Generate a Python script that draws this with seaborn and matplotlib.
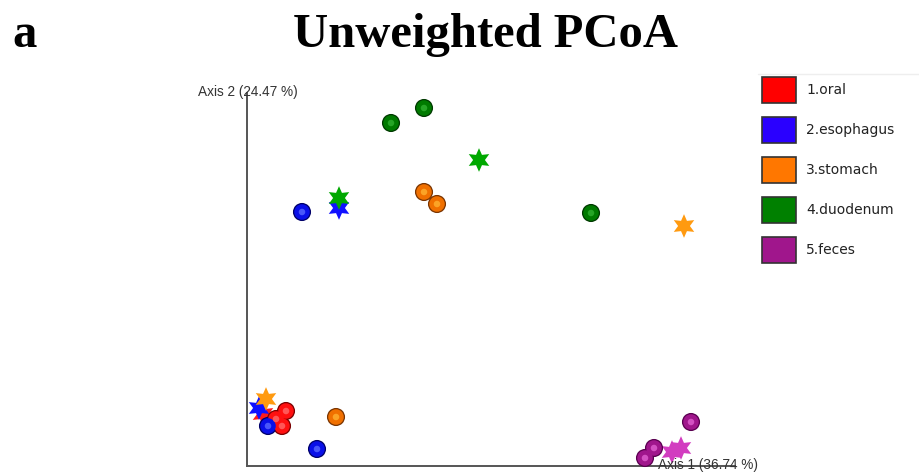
import numpy as np
import pandas as pd
import matplotlib
matplotlib.use("Agg")
import matplotlib.pyplot as plt
import seaborn as sns
from matplotlib.patches import Patch
from matplotlib.lines import Line2D

# ---- data (PCoA coordinates) ----
groups = ["1.oral", "2.esophagus", "3.stomach", "4.duodenum", "5.feces"]

oral_pc1 = [-0.197, -0.174, -0.184, -0.178]
oral_pc2 = [-0.114, -0.111, -0.119, -0.126]
oral_kind = ["star", "circle", "circle", "circle"]

eso_pc1 = [-0.201, -0.121, -0.192, -0.143, -0.158]
eso_pc2 = [-0.108, 0.092, -0.126, -0.149, 0.088]
eso_kind = ["star", "star", "circle", "circle", "circle"]

sto_pc1 = [-0.194, 0.224, -0.124, -0.036, -0.023]
sto_pc2 = [-0.099, 0.074, -0.117, 0.108, 0.096]
sto_kind = ["star", "star", "circle", "circle", "circle"]

duo_pc1 = [-0.121, 0.019, -0.069, -0.036, 0.131]
duo_pc2 = [0.102, 0.140, 0.177, 0.192, 0.087]
duo_kind = ["star", "star", "circle", "circle", "circle"]

fec_pc1 = [0.212, 0.221, 0.231, 0.194, 0.185]
fec_pc2 = [-0.152, -0.148, -0.122, -0.148, -0.158]
fec_kind = ["star", "star", "circle", "circle", "circle"]

axis1_label = "Axis 1 (36.74 %)"
axis2_label = "Axis 2 (24.47 %)"

# ---- styles ----
legend_colors = ["#ff0000", "#2a00ff", "#ff7700", "#008000", "#a0168c"]
circle_base = ["#ff1010", "#0a10e8", "#f07000", "#007a00", "#a0168c"]
circle_edge = ["#7a0000", "#00006a", "#7a3400", "#003a00", "#5a0050"]
circle_light = ["#ff6a6a", "#5a6aff", "#ffb030", "#30b030", "#e060d0"]
star_colors = ["#ff1a1a", "#1010ff", "#ff9a10", "#00a800", "#d23cc0"]

frames = []
for g, x, y, k in zip(groups,
                      [oral_pc1, eso_pc1, sto_pc1, duo_pc1, fec_pc1],
                      [oral_pc2, eso_pc2, sto_pc2, duo_pc2, fec_pc2],
                      [oral_kind, eso_kind, sto_kind, duo_kind, fec_kind]):
    frames.append(pd.DataFrame({"group": g, "PC1": x, "PC2": y, "kind": k}))
df = pd.concat(frames, ignore_index=True)

sns.set_theme(style="white")
plt.rcParams["font.family"] = ["DejaVu Sans"]

W, H = 920, 472
fig = plt.figure(figsize=(W / 100, H / 100), dpi=100)

# axes placed in pixel geometry
x0, x1 = 247, 735
y0, y1 = 466, 80
ax = fig.add_axes([x0 / W, 1 - y0 / H, (x1 - x0) / W, (y0 - y1) / H])
ax.set_xlim(-0.213, 0.275)
ax.set_ylim(-0.166, 0.220)

stars = df[df.kind == "star"]
circles = df[df.kind == "circle"]
star_marker = (6, 1, 0)

sns.scatterplot(data=stars, x="PC1", y="PC2", hue="group", hue_order=groups,
                palette=star_colors, marker=star_marker, s=290, linewidth=0,
                legend=False, ax=ax, zorder=3, clip_on=False)
sns.scatterplot(data=circles, x="PC1", y="PC2", hue="group", hue_order=groups,
                palette=circle_edge, marker="o", s=170, linewidth=0,
                legend=False, ax=ax, zorder=4, clip_on=False)
sns.scatterplot(data=circles, x="PC1", y="PC2", hue="group", hue_order=groups,
                palette=circle_base, marker="o", s=125, linewidth=0,
                legend=False, ax=ax, zorder=5, clip_on=False)
sns.scatterplot(data=circles, x="PC1", y="PC2", hue="group", hue_order=groups,
                palette=circle_light, marker="o", s=22, linewidth=0, alpha=0.8,
                legend=False, ax=ax, zorder=6, clip_on=False)

# axes styling: only left & bottom lines, no ticks
for s in ["top", "right"]:
    ax.spines[s].set_visible(False)
for s in ["left", "bottom"]:
    ax.spines[s].set_color("#555555")
    ax.spines[s].set_linewidth(1.4)
ax.spines["left"].set_bounds(-0.166, 0.207)
ax.set_xticks([])
ax.set_yticks([])
ax.set_xlabel("")
ax.set_ylabel("")

lab_font = dict(family=["Liberation Sans", "DejaVu Sans"], fontsize=9.8, color="#333333")
fig.text(198 / W, 1 - 92 / H, axis2_label, ha="left", va="center", **lab_font)
fig.text(658 / W, 1 - 465 / H, axis1_label, ha="left", va="center", **lab_font)

# titles
fig.text(486 / W, 1 - 35 / H, "Unweighted PCoA", ha="center", va="center",
         family=["Liberation Serif", "DejaVu Serif"], fontweight="bold",
         fontsize=35, color="black")
fig.text(12 / W, 1 - 35 / H, "a", ha="left", va="center",
         family=["Liberation Serif", "DejaVu Serif"], fontweight="bold",
         fontsize=35, color="black")

# legend
handles = [Patch(facecolor=c, edgecolor="#333333", linewidth=1.2) for c in legend_colors]
fs = 10
fs_px = fs * 100 / 72
rect_h = 26 / fs_px
hh = (rect_h - 0.245) / 0.65
leg = fig.legend(handles, groups, loc="upper left",
                 bbox_to_anchor=(762 / W, 1 - 77 / H), frameon=False,
                 fontsize=fs, handlelength=34 / fs_px, handleheight=hh,
                 labelspacing=(40 - 26) / fs_px, handletextpad=10 / fs_px,
                 borderpad=0, borderaxespad=0)
for t in leg.get_texts():
    t.set_color("#222222")

fig.add_artist(Line2D([758 / W, 1.0], [1 - 74 / H, 1 - 74 / H],
                      transform=fig.transFigure, color="#eeeeee", linewidth=1))

fig.savefig("out.png", dpi=100)
